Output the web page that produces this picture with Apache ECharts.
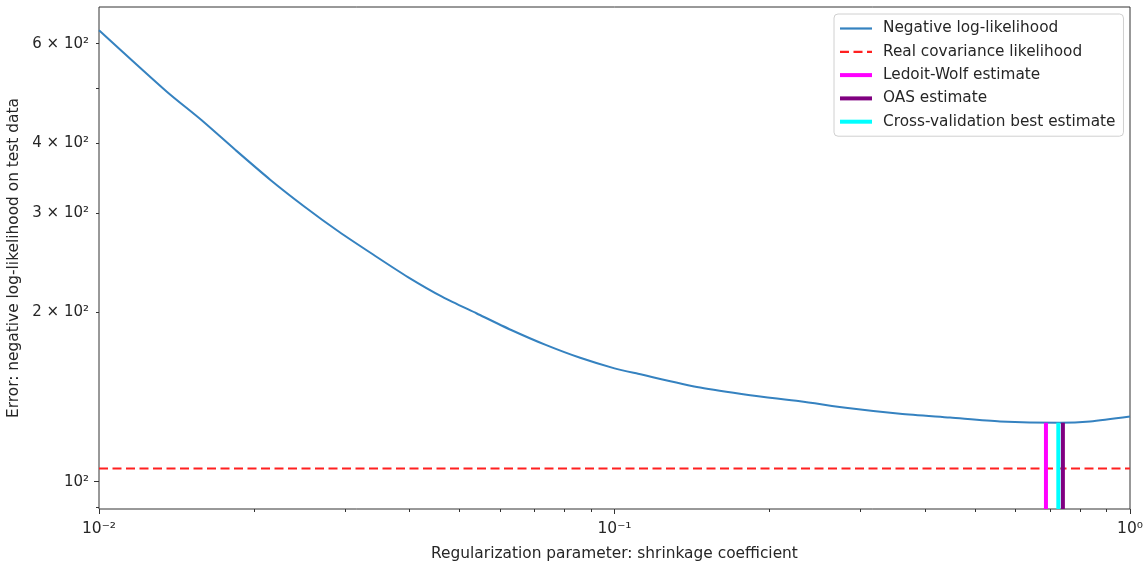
<!DOCTYPE html>
<html><head><meta charset="utf-8">
<script src="https://cdn.jsdelivr.net/npm/echarts@6/dist/echarts.min.js"></script>
<style>html,body{margin:0;padding:0;background:#fff}#c{width:1143px;height:564px}</style>
</head><body><div id="c"></div>
<script>
// ---- data ----
const shrinkage = [0.01, 0.01354, 0.0158, 0.01842, 0.02148, 0.02505, 0.02921, 0.03408, 0.03974, 0.04637, 0.05406, 0.06304, 0.07354, 0.08577, 0.1, 0.1111, 0.1466, 0.1833, 0.229, 0.2862, 0.358, 0.4476, 0.5597, 0.7314, 0.8364, 1.0];
const negLogLik = [634, 493, 439, 388, 344, 308, 278, 253, 231, 213, 199, 186, 175, 166, 159, 155.5, 147, 142.5, 139, 135, 132, 130, 128, 127.3, 128, 130.6];
const realLogLik = 105.6;
const ledoitWolf = [0.687, 127.3];   // [shrinkage, neg. log-likelihood]
const oas = [0.741, 127.3];
const cvBest = [0.726, 127.3];
const xRange = [0.01, 1];
const yRange = [89.45, 697];
const xMajorTicks = [0.01, 0.1, 1];
const xMinorTicks = [0.02, 0.03, 0.04, 0.05, 0.06, 0.07, 0.08, 0.09, 0.2, 0.3, 0.4, 0.5, 0.6, 0.7, 0.8, 0.9];
const yLabelTicks = [100, 200, 300, 400, 600];
const yMajorTicks = [100];
const yMinorTicks = [90, 200, 300, 400, 500, 600];
const names = ['Negative log-likelihood', 'Real covariance likelihood', 'Ledoit-Wolf estimate', 'OAS estimate', 'Cross-validation best estimate'];
const titleText = 'Regularized covariance: likelihood and shrinkage coefficient';

const SUP = {'-': '\u207B', '0': '\u2070', '1': '\u00B9', '2': '\u00B2', '3': '\u00B3', '4': '\u2074', '5': '\u2075', '6': '\u2076', '7': '\u2077', '8': '\u2078', '9': '\u2079'};
const sup = s => String(s).split('').map(c => SUP[c] || c).join('');
function fmtX(v) { return '10' + sup(Math.round(Math.log10(v))); }
function fmtY(v) {
  const e = Math.floor(Math.log10(v) + 1e-9);
  const m = Math.round(v / Math.pow(10, e));
  return (m === 1 ? '' : m + ' \u00D7 ') + '10' + sup(e);
}
const FONT = 'DejaVu Sans';
const TXT = '#262626';
const AX = '#333';
const COLORS = ['#3582c0', '#ff2020', '#ff00ff', '#800080', '#00ffff'];

const chart = echarts.init(document.getElementById('c'), null, {renderer: 'canvas'});
const lineSeries = (i, data, width, type) => ({
  name: names[i], type: 'line', data, xAxisIndex: 0, yAxisIndex: 0, symbol: 'none', showSymbol: false,
  smooth: false, lineStyle: {color: COLORS[i], width, type: type || 'solid'},
  itemStyle: {color: 'rgba(0,0,0,0)', opacity: 0}, z: 2 + i, silent: true, clip: true
});
const legendWidths = [2.2, 2.2, 4, 4, 4];

chart.setOption({
  animation: false,
  backgroundColor: '#fff',
  title: {text: titleText, left: 'center', top: -20.3, padding: [0, 0, 0, 146],
          textStyle: {fontFamily: FONT, fontSize: 20.7, fontWeight: 'normal', color: TXT}},
  grid: {left: 99, right: 13, top: 7, bottom: 55, show: true, borderColor: AX, borderWidth: 1, containLabel: false, outerBoundsMode: 'none'},
  legend: {
    orient: 'vertical', left: 834, top: 14,
    data: names.map((n, i) => ({name: n, lineStyle: {width: legendWidths[i], color: COLORS[i]}, itemStyle: {opacity: 0}})),
    backgroundColor: 'rgba(255,255,255,0.85)', borderColor: '#d0d0d0', borderWidth: 1, borderRadius: 4,
    padding: [7, 8, 7, 4], itemWidth: 32, itemHeight: 15, itemGap: 8.3,
    itemStyle: {opacity: 0},
    textStyle: {fontFamily: FONT, fontSize: 15.3, color: TXT, padding: [0, 0, 0, 6]}
  },
  xAxis: [
    {type: 'log', logBase: 10, min: xRange[0], max: xRange[1], gridIndex: 0,
     axisLine: {show: false}, splitLine: {show: false}, minorTick: {show: false},
     axisTick: {show: true, length: 5, customValues: xMajorTicks, lineStyle: {color: AX}},
     axisLabel: {customValues: xMajorTicks, formatter: fmtX, margin: 12, fontFamily: FONT, fontSize: 15.5, color: TXT},
     name: 'Regularization parameter: shrinkage coefficient', nameLocation: 'middle', nameGap: 37,
     nameTextStyle: {fontFamily: FONT, fontSize: 15.4, color: TXT}},
    {type: 'log', logBase: 10, min: xRange[0], max: xRange[1], gridIndex: 0, position: 'bottom',
     axisLine: {show: false}, splitLine: {show: false}, minorTick: {show: false},
     axisTick: {show: true, length: 3, customValues: xMinorTicks, lineStyle: {color: AX}},
     axisLabel: {show: false}}
  ],
  yAxis: [
    {type: 'log', logBase: 10, min: yRange[0], max: yRange[1], gridIndex: 0,
     axisLine: {show: false}, splitLine: {show: false}, minorTick: {show: false},
     axisTick: {show: true, length: 5, customValues: yMajorTicks, lineStyle: {color: AX}},
     axisLabel: {customValues: yLabelTicks, formatter: fmtY, margin: 10, fontFamily: FONT, fontSize: 15, color: TXT},
     name: 'Error: negative log-likelihood on test data', nameLocation: 'middle', nameGap: 71, nameRotate: 90,
     nameTextStyle: {fontFamily: FONT, fontSize: 15.4, color: TXT}},
    {type: 'log', logBase: 10, min: yRange[0], max: yRange[1], gridIndex: 0, position: 'left',
     axisLine: {show: false}, splitLine: {show: false}, minorTick: {show: false},
     axisTick: {show: true, length: 3, customValues: yMinorTicks, lineStyle: {color: AX}},
     axisLabel: {show: false}}
  ],
  series: [
    Object.assign(lineSeries(0, shrinkage.map((x, i) => [x, negLogLik[i]]), 2), {smooth: 0.25}),
    lineSeries(1, [[xRange[0], realLogLik], [xRange[1], realLogLik]], 2, [9, 4.5]),
    lineSeries(2, [[ledoitWolf[0], yRange[0]], [ledoitWolf[0], ledoitWolf[1]]], 4),
    lineSeries(3, [[oas[0], yRange[0]], [oas[0], oas[1]]], 4),
    lineSeries(4, [[cvBest[0], yRange[0]], [cvBest[0], cvBest[1]]], 4)
  ]
});
</script>
</body></html>
